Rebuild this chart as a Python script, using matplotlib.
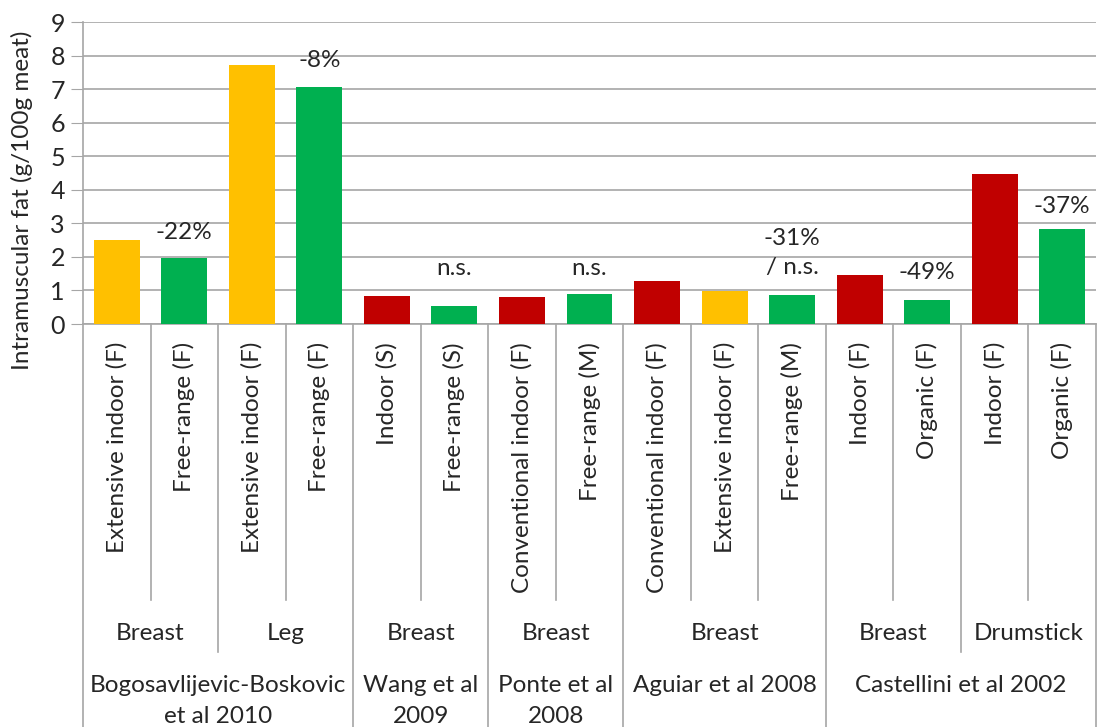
import numpy as np
from matplotlib import pyplot as plt
from matplotlib import transforms

plt.rcParams['font.family'] = ['Lato', 'DejaVu Sans']

# bars, left to right
treatments = ['Extensive indoor (F)', 'Free-range (F)', 'Extensive indoor (F)', 'Free-range (F)',
              'Indoor (S)', 'Free-range (S)', 'Conventional indoor (F)', 'Free-range (M)',
              'Conventional indoor (F)', 'Extensive indoor (F)', 'Free-range (M)',
              'Indoor (F)', 'Organic (F)', 'Indoor (F)', 'Organic (F)']
fat = [2.51, 1.96, 7.72, 7.07, 0.83, 0.53, 0.80, 0.90, 1.29, 0.98, 0.87, 1.45, 0.72, 4.47, 2.82]
system = ['ext', 'free', 'ext', 'free', 'conv', 'free', 'conv', 'free',
          'conv', 'ext', 'free', 'conv', 'free', 'conv', 'free']

# (label, first bar, number of bars)
cuts = [('Breast', 0, 2), ('Leg', 2, 2), ('Breast', 4, 2), ('Breast', 6, 2),
        ('Breast', 8, 3), ('Breast', 11, 2), ('Drumstick', 13, 2)]
studies = [('Bogosavlijevic-Boskovic\net al 2010', 0, 4), ('Wang et al\n2009', 4, 2),
           ('Ponte et al\n2008', 6, 2), ('Aguiar et al 2008', 8, 3),
           ('Castellini et al 2002', 11, 4)]

# (bar index, text, y position)
notes = [(1, '-22%', 2.72), (3, '-8%', 7.85), (5, 'n.s.', 1.65), (7, 'n.s.', 1.65),
         (10, '-31%\n/ n.s.', 2.12), (12, '-49%', 1.52), (14, '-37%', 3.5)]

colors = {'ext': '#FFC000', 'free': '#00B050', 'conv': '#C00000'}
grey = '#A6A6A6'
ink = '#262626'
fs = 17.5

W, H = 1098, 727
fig = plt.figure(figsize=(W / 100, H / 100), dpi=100)
ax_l, ax_r, ax_t, ax_b = 83, 1096, 22, 324
ax = fig.add_axes([ax_l / W, 1 - ax_b / H, (ax_r - ax_l) / W, (ax_b - ax_t) / H])

x = np.arange(len(fat))
ax.bar(x, fat, width=0.68, color=[colors[s] for s in system], zorder=3)

ax.set_xlim(-0.5, len(fat) - 0.5)
ax.set_ylim(0, 9)
ax.set_yticks(range(10))
ax.tick_params(axis='y', labelsize=fs + 0.5, length=9, color=grey, pad=4, labelcolor=ink)
ax.set_xticks([])
ax.grid(axis='y', color=grey, linewidth=1.2, zorder=0)
for side in ['top', 'right']:
    ax.spines[side].set_visible(False)
for side in ['left', 'bottom']:
    ax.spines[side].set_color(grey)
    ax.spines[side].set_linewidth(1.2)
fig.text(22 / W, 1 - 200 / H, 'Intramuscular fat (g/100g meat)', rotation=90,
         ha='center', va='center', fontsize=fs, color=ink)

for i, txt, y in notes:
    ax.text(i, y, txt, ha='center', va='center', fontsize=fs, color=ink,
            linespacing=1.45)

# multi-level category axis below the plot
tr = transforms.blended_transform_factory(ax.transData, ax.transAxes)
def yf(px):
    return (ax_b - px) / (ax_b - ax_t)

study_edges = {s for _, s, n in studies} | {s + n for _, s, n in studies}
cut_edges = {s for _, s, n in cuts} | {s + n for _, s, n in cuts}
for e in range(len(fat) + 1):
    if e in study_edges:
        bottom = 740
    elif e in cut_edges:
        bottom = 652
    else:
        bottom = 600
    ax.plot([e - 0.5, e - 0.5], [0, yf(bottom)], color=grey, linewidth=1.2,
            transform=tr, clip_on=False)

for i, lab in enumerate(treatments):
    ax.text(i, yf(342), lab, rotation=90, ha='center', va='top', fontsize=fs,
            transform=tr, color=ink)
for lab, s, n in cuts:
    ax.text(s + (n - 1) / 2, yf(634), lab, ha='center', va='center', fontsize=fs,
            transform=tr, color=ink)
for lab, s, n in studies:
    ax.text(s + (n - 1) / 2, yf(675), lab, ha='center', va='top', fontsize=fs,
            transform=tr, color=ink, linespacing=1.6)

plt.savefig('out.png', dpi=100)
